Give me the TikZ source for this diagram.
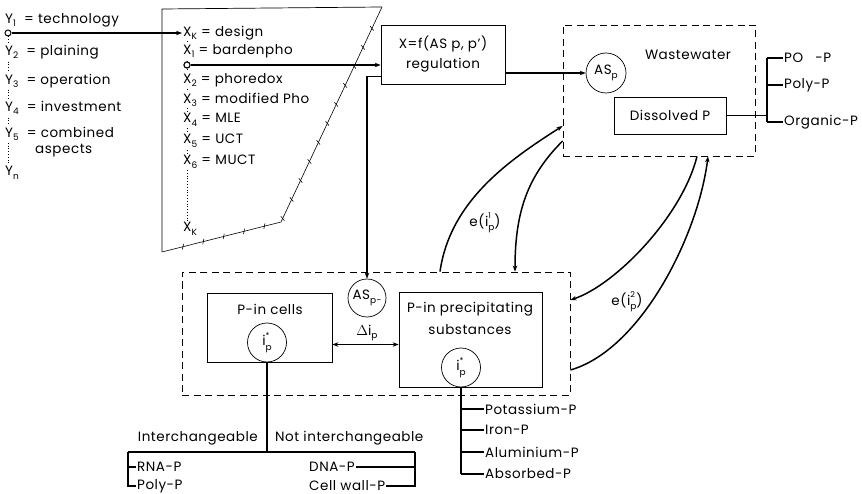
\documentclass[tikz,border=0pt]{standalone}
\usepackage{fontspec}
\setmainfont{Poppins}[LetterSpace=4]
\usetikzlibrary{arrows.meta,decorations.markings}
\newcommand\mysub[1]{\raisebox{-0.5ex}{\fontsize{9}{9}\selectfont #1}}
\newcommand\mysubsup[2]{\makebox[0pt][l]{\raisebox{-0.6ex}{\fontsize{9}{9}\selectfont #1}}\makebox[0.45em][l]{\raisebox{1.0ex}{\fontsize{8}{8}\selectfont #2}}}
\begin{document}
\begin{tikzpicture}[x=1pt,y=-1pt,
  font=\fontsize{13.5}{16}\selectfont,
  >={Stealth[length=6pt,width=4.5pt]},
  lab/.style={inner sep=1pt, anchor=west},
  wlab/.style={inner sep=1pt, anchor=west, fill=white},
  box/.style={draw, line width=0.7pt, inner sep=0pt},
  dbox/.style={draw, line width=0.8pt, dash pattern=on 7pt off 4.5pt, inner sep=0pt},
  circ/.style={draw, circle, line width=0.7pt, minimum size=40pt, inner sep=0pt, fill=white},
  dotc/.style={draw, circle, line width=1pt, minimum size=6pt, inner sep=0pt, fill=white},
  conn/.style={line width=1.5pt},
  dotl/.style={line width=0.8pt, dotted},
  ticked/.style={line width=0.6pt, postaction={decorate},
    decoration={markings, mark=between positions 0.06 and 0.97 step 21pt with {\draw[line width=0.6pt] (-1.2pt,-2.5pt) -- (1.2pt,2.5pt);}}}
]
\useasboundingbox (0,0) rectangle (862,494);

% ---------- Y list ----------
\node[dotc] (y1c) at (8,33) {};
\node[wlab] (yn) at (4,173) {Y\mysub{n}};
\draw[dotl] (y1c.south) -- (yn.north -| y1c);
\node[wlab] (y1) at (4,20) {Y\mysub{1}\hspace{4pt} = technology};
\node[wlab] (y2) at (4,52) {Y\mysub{2}\hspace{4pt} = plaining};
\node[wlab] (y3) at (4,81) {Y\mysub{3}\hspace{4pt} = operation};
\node[wlab] (y4) at (4,108) {Y\mysub{4}\hspace{4pt} = investment};
\node[wlab] (y5) at (4,134) {Y\mysub{5}\hspace{4pt} = combined};
\node[lab] (y5b) at (34,151) {aspects};

% ---------- trapezoid ----------
\coordinate (tl) at (162,9);
\coordinate (tr) at (382,7);
\coordinate (bm) at (281,222);
\coordinate (bl) at (162,252);
\draw[line width=0.7pt] (tr) -- (tl) -- (bl);
\draw[ticked] (bl) -- (bm) -- (tr);

% ---------- X list ----------
\node[dotc] (x1c) at (187,65) {};
\node[wlab] (xk) at (182,33) {X\mysub{K} = design};
\node[wlab] (xkk) at (182,229) {X\mysub{K}};
\draw[dotl] (xk.south -| x1c) -- (xkk.north -| x1c);
\node[wlab] (x1) at (182,51) {X\mysub{1} = bardenpho};
\node[wlab] (x2) at (182,80) {X\mysub{2} = phoredox};
\node[wlab] (x3) at (182,100) {X\mysub{3} = modified Pho};
\node[wlab] (x4) at (182,120) {X\mysub{4} = MLE};
\node[wlab] (x5) at (182,141) {X\mysub{5} = UCT};
\node[wlab] (x6) at (182,162) {X\mysub{6} = MUCT};
\node[dotc] at (187,65) {};

\draw[conn,->] (y1c.east) -- (xk.west);

% ---------- regulation ----------
\node[box, minimum width=124pt, minimum height=59pt, align=center] (reg) at (443,54.5) {X=f(AS p, p')\\[4pt]regulation};
\draw[conn,->] (x1c.east) -- (x1c.east -| reg.west);

% ---------- wastewater ----------
\node[dbox, minimum width=192pt, minimum height=131pt] (ww) at (659,90.5) {};
\node (wwl) at (688,55) {Wastewater};
\node[circ] (asp) at (606,73) {AS\mysub{p}};
\node[box, minimum width=112pt, minimum height=37pt] (dp) at (670,115.5) {Dissolved P};
\draw[conn,->] (asp.west -| reg.east) -- (asp.west);

\coordinate (br) at (767,0);
\node[lab] (po) at (783,58) {PO\hspace{0.9em}-P};
\node[lab] (poly) at (783,85) {Poly-P};
\node[lab] (org) at (783,122) {Organic-P};
\draw[conn] (dp.east) -- (dp.east -| br);
\draw[conn] (po.west -| br) -- (org.west -| br);
\draw[conn] (po.west -| br) -- (po.west);
\draw[conn] (poly.west -| br) -- (poly.west);
\draw[conn] (org.west -| br) -- (org.west);

% ---------- lower box ----------
\node[dbox, minimum width=388pt, minimum height=123pt] (lb) at (376,333.5) {};
\node[circ, minimum size=38pt] (asm) at (367,298) {AS\mysub{p-}};
\draw[conn,->] ([yshift=-22pt]reg.west) -| (asm.north);

\node[box, minimum width=125pt, minimum height=69pt] (cells) at (269.5,327.5) {};
\node (cellsl) at (270,309) {P-in cells};
\node[circ, minimum size=39pt] (ci) at (267,342.5) {i\mysubsup{p}{*}};

\node[box, minimum width=143pt, minimum height=95pt] (pr) at (470.5,339.5) {};
\node (prl1) at (470,309) {P-in precipitating};
\node (prl2) at (470,330) {substances};
\node[circ, minimum size=39pt] (pi) at (461,367.5) {i\mysubsup{p}{*}};

\coordinate (dl) at ([yshift=-17pt]cells.east);
\draw[conn,<->] (dl) -- (dl -| pr.west);
\node (dil) at (367,333) {$\Delta$i\mysub{p}};

% ---------- exchange curves ----------
\draw[conn,->] ([xshift=64pt]lb.north) .. controls +(10,-70) and +(-55,35) .. ([yshift=-35.5pt]ww.west);
\draw[conn,->] ([yshift=-50.5pt]ww.west) .. controls +(-35,35) and +(0,-60) .. ([xshift=139pt]lb.north);
\draw[conn,->] ([xshift=38pt]ww.south) .. controls +(-15,60) and +(45,-15) .. ([yshift=33.5pt]lb.east);
\draw[conn,->] ([yshift=-36.5pt]lb.east) .. controls +(70,-20) and +(-10,80) .. ([xshift=49pt]ww.south);
\node (e1) at (485,223) {e(i\mysubsup{p}{1})};
\node (e2) at (627,302) {e(i\mysubsup{p}{2})};

% ---------- precipitate list ----------
\node[lab] (pot) at (484,409) {Potassium-P};
\node[lab] (iron) at (484,430) {Iron-P};
\node[lab] (alu) at (484,452) {Aluminium-P};
\node[lab] (ab) at (484,474) {Absorbed-P};
\draw[conn] (pi.south) -- (pi.south |- ab.west);
\draw[conn] (pi.south |- pot.west) -- (pot.west);
\draw[conn] (pi.south |- iron.west) -- (iron.west);
\draw[conn] (pi.south |- alu.west) -- (alu.west);
\draw[conn] (pi.south |- ab.west) -- (ab.west);

% ---------- cell list ----------
\coordinate (barL) at (128,452);
\coordinate (barR) at (415,452);
\node[lab, anchor=east] (inter) at (259,438) {Interchangeable};
\node[lab] (notint) at (274,438) {Not interchangeable};
\node[lab] (rna) at (136,467) {RNA-P};
\node[lab] (polyb) at (136,486) {Poly-P};
\node[lab] (dna) at (308,467) {DNA-P};
\node[lab] (cw) at (308,486) {Cell wall-P};
\draw[conn] (ci.south) -- (ci.south |- barL);
\draw[conn] (barL) -- (barR);
\draw[conn] (barL) |- (polyb.west);
\draw[conn] (rna.west -| barL) -- (rna.west);
\draw[conn] (barR) |- (cw.east);
\draw[conn] (dna.east) -- (dna.east -| barR);
\end{tikzpicture}
\end{document}
